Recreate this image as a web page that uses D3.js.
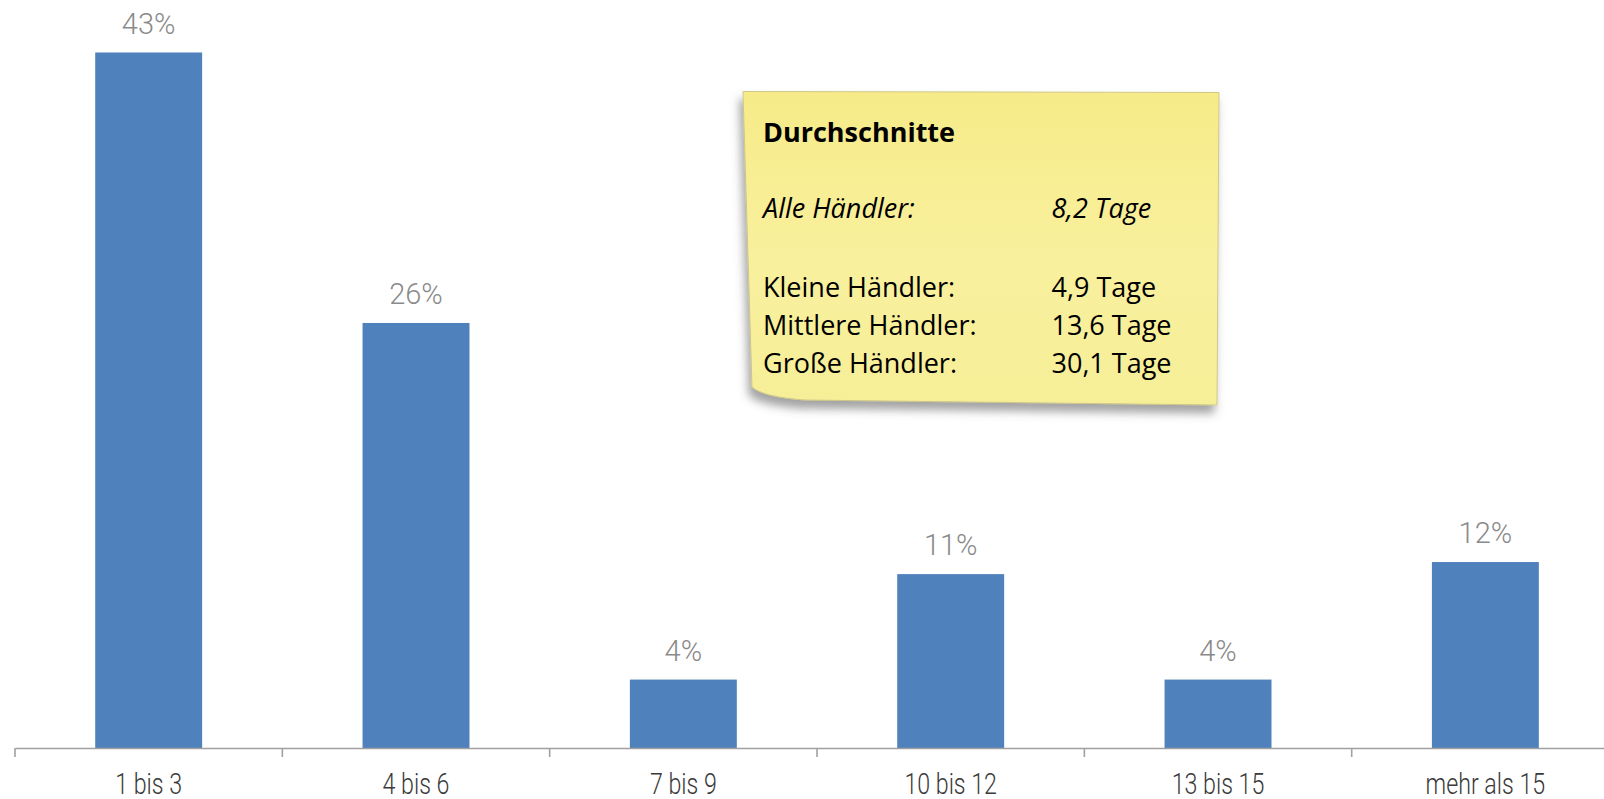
<!DOCTYPE html>
<html>
<head>
<meta charset="utf-8">
<script src="https://cdn.jsdelivr.net/npm/d3@7"></script>
<style>
  html, body { margin: 0; padding: 0; background: #ffffff; }
  svg { display: block; }
</style>
</head>
<body>
<svg id="chart" width="1604" height="799"></svg>
<script>
// ---- data ----
const categories = ["1 bis 3", "4 bis 6", "7 bis 9", "10 bis 12", "13 bis 15", "mehr als 15"];
const shares = [43.2, 26.4, 4.25, 10.8, 4.25, 11.55];
const noteTitle = "Durchschnitte";
const noteLabels = ["Alle Händler:", "Kleine Händler:", "Mittlere Händler:", "Große Händler:"];
const noteValues = ["8,2 Tage", "4,9 Tage", "13,6 Tage", "30,1 Tage"];

// ---- layout ----
const W = 1604, H = 799;
const baseY = 748;
const svg = d3.select("#chart");

const x = d3.scaleBand()
  .domain(categories)
  .range([15, 15 + 6 * 267.34])
  .paddingInner(0.6)
  .paddingOuter(0.3);

const y = d3.scaleLinear().domain([0, 46.46]).range([baseY, 0]);

// bars
svg.append("g").selectAll("rect")
  .data(categories)
  .join("rect")
  .attr("x", d => x(d))
  .attr("width", x.bandwidth())
  .attr("y", (d, i) => y(shares[i]))
  .attr("height", (d, i) => baseY - y(shares[i]))
  .attr("fill", "#4F81BD");

// value labels
svg.append("g").selectAll("text")
  .data(categories)
  .join("text")
  .attr("x", d => x(d) + x.bandwidth() / 2)
  .attr("y", (d, i) => y(shares[i]) - 18.7)
  .attr("text-anchor", "middle")
  .attr("font-family", "Roboto, 'Liberation Sans', sans-serif")
  .attr("font-weight", 300)
  .attr("font-size", 29)
  .attr("fill", "#8a8a8a")
  .text((d, i) => Math.round(shares[i]) + "%");

// axis
const axis = d3.axisBottom(x).tickSize(0).tickSizeOuter(0).tickPadding(0);
const gAxis = svg.append("g").attr("transform", `translate(0,${baseY})`).call(axis);
gAxis.select(".domain").attr("stroke", "#a0a0a0").attr("stroke-width", 1.6);
gAxis.selectAll(".tick text")
  .attr("y", 46)
  .attr("dy", 0)
  .attr("font-family", "Roboto, 'Liberation Sans', sans-serif")
  .attr("font-weight", 300)
  .attr("font-size", 29)
  .attr("fill", "#3a3a3a")
  .attr("transform", "scale(0.8,1)");

// boundary ticks
const gap = (x.step() - x.bandwidth()) / 2;
gAxis.append("g").selectAll("line")
  .data(categories)
  .join("line")
  .attr("x1", d => x(d) - gap)
  .attr("x2", d => x(d) - gap)
  .attr("y1", 0)
  .attr("y2", 9)
  .attr("stroke", "#a0a0a0")
  .attr("stroke-width", 1.6);

// ---- sticky note ----
const defs = svg.append("defs");
const grad = defs.append("linearGradient").attr("id", "noteGrad")
  .attr("x1", 0).attr("y1", 0).attr("x2", 0).attr("y2", 1);
grad.append("stop").attr("offset", "0%").attr("stop-color", "#F6EB88");
grad.append("stop").attr("offset", "55%").attr("stop-color", "#F9F09E");
grad.append("stop").attr("offset", "100%").attr("stop-color", "#F7EE98");

const filt = defs.append("filter").attr("id", "noteShadow")
  .attr("x", "-10%").attr("y", "-10%").attr("width", "120%").attr("height", "130%");
filt.append("feDropShadow").attr("dx", -3).attr("dy", 8).attr("stdDeviation", 5)
  .attr("flood-color", "#555").attr("flood-opacity", 0.55);

const noteG = svg.append("g");
noteG.append("path")
  .attr("d", "M743,91.5 L1219,92.5 L1217,405 L805,400 Q763,397 752,387 Z")
  .attr("fill", "url(#noteGrad)")
  .attr("stroke", "#cfc88a")
  .attr("stroke-width", 1)
  .attr("filter", "url(#noteShadow)");

const noteFont = "'Open Sans', Lato, sans-serif";
const noteSize = 27;
const col1 = 763, col2 = 1051.5;
noteG.append("text")
  .attr("x", col1).attr("y", 141.7)
  .attr("font-family", noteFont).attr("font-weight", 700).attr("font-size", noteSize)
  .attr("fill", "#000").text(noteTitle);

const rowsY = [218, 296.7, 335, 373];
noteLabels.forEach((lab, i) => {
  const italic = i === 0 ? "italic" : "normal";
  noteG.append("text")
    .attr("x", col1).attr("y", rowsY[i])
    .attr("font-family", noteFont).attr("font-size", noteSize).attr("font-style", italic)
    .attr("fill", "#000").text(lab);
  noteG.append("text")
    .attr("x", col2).attr("y", rowsY[i])
    .attr("font-family", noteFont).attr("font-size", noteSize).attr("font-style", italic)
    .attr("fill", "#000").text(noteValues[i]);
});
</script>
</body>
</html>
